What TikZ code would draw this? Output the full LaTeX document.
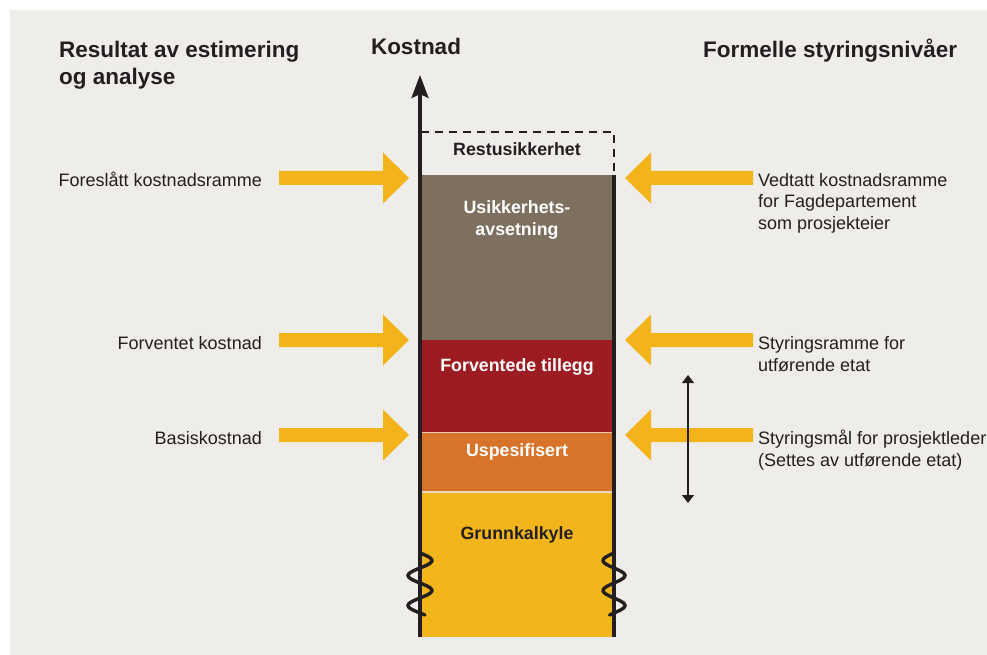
\documentclass[tikz,border=0pt]{standalone}
\usepackage{fontspec}
\setmainfont{Liberation Sans}
\usepackage{xcolor}
\usepackage{tikz}
\usetikzlibrary{arrows.meta}

\definecolor{bggrey}{HTML}{EEEDE9}
\definecolor{brownblk}{HTML}{7E705F}
\definecolor{redblk}{HTML}{9D1C21}
\definecolor{orangeblk}{HTML}{D8742A}
\definecolor{yellowblk}{HTML}{F2B51C}
\definecolor{arrowyellow}{HTML}{F3B31B}
\definecolor{inkdark}{HTML}{231F20}

\begin{document}
\begin{tikzpicture}[x=1pt, y=-1pt,
  every node/.style = {inner sep=0pt, text=inkdark},
  title/.style = {font=\fontsize{22.5}{27}\selectfont\bfseries, align=left},
  leftlbl/.style = {font=\fontsize{18}{21}\selectfont, anchor=base east},
  rightlbl/.style = {font=\fontsize{18}{21.5}\selectfont, align=left, anchor=base west},
  blocktxt/.style = {font=\fontsize{17.8}{22}\selectfont\bfseries, text=white, align=center, anchor=base},
  fatarrow/.style = {fill=arrowyellow},
  column/.style = {line width=3.5pt, draw=inkdark}]
  \useasboundingbox (0,0) rectangle (987,655);
  \fill[bggrey] (10,10) rectangle (987,655);

  % titles (base = last line)
  \node[title, anchor=base west] (restitle) at (59,85) {Resultat av estimering\\og analyse};
  \node[title, anchor=base] (kostnad) at (416,55) {Kostnad};
  \node[title, anchor=base west] (formtitle) at (703,58) {Formelle styringsniv\r{a}er};

  % cost column
  \fill[brownblk]  (420,175) rectangle (614,340);
  \fill[redblk]    (420,340) rectangle (614,432);
  \fill[orangeblk] (420,432) rectangle (614,492);
  \fill[yellowblk] (420,492) rectangle (614,637);
  \draw[white!60!orangeblk, line width=1pt] (420,432.5) -- (614,432.5);
  \draw[white!70!orangeblk, line width=1.8pt] (420,492) -- (614,492);

  \node[blocktxt, text=inkdark] (rest) at (517,156) {Restusikkerhet};
  \node[blocktxt] (usik) at (517,235) {Usikkerhets-\\avsetning};
  \node[blocktxt] (tillegg) at (517,371) {Forventede tillegg};
  \node[blocktxt] (uspes) at (517,456) {Uspesifisert};
  \node[blocktxt, text=inkdark] (grunn) at (517,539) {Grunnkalkyle};

  \coordinate (axisbot) at (420,637);
  \coordinate (axistop) at (420,75);
  \coordinate (rightbot) at (614,637);
  \coordinate (righttop) at (614,175);
  \draw[column, -{Stealth[length=23pt, width=17pt, inset=4pt]}] (axisbot) -- (axistop);
  \draw[column] (rightbot) -- (righttop);
  \draw[inkdark, line width=2pt, dash pattern=on 8pt off 6pt] (421,132) -- (614,132) -- (614,175);

  % break marks
  \draw[inkdark, line width=3.4pt, line cap=round, smooth, samples=40, domain=553:615]
    plot ({420+12*sin((\x-553)*12)}, \x);
  \draw[inkdark, line width=3.4pt, line cap=round, smooth, samples=40, domain=553:615]
    plot ({614-11*sin((\x-553)*12)}, \x);

  % yellow arrows
  \foreach \y in {178,340,435} {
    \fill[fatarrow] (279,\y-7) -- (383,\y-7) -- (383,\y-25.5) -- (409,\y)
      -- (383,\y+25.5) -- (383,\y+7) -- (279,\y+7) -- cycle;
    \fill[fatarrow] (753,\y-7) -- (651,\y-7) -- (651,\y-25.5) -- (625,\y)
      -- (651,\y+25.5) -- (651,\y+7) -- (753,\y+7) -- cycle;
  }

  % labels left
  \node[leftlbl] (foreslatt) at (262,186) {Foresl\r{a}tt kostnadsramme};
  \node[leftlbl] (forventet) at (262,349) {Forventet kostnad};
  \node[leftlbl] (basis) at (262,444) {Basiskostnad};

  % labels right (base = last line)
  \node[rightlbl] (vedtatt) at (758,229) {Vedtatt kostnadsramme\\for Fagdepartement\\som prosjekteier};
  \node[rightlbl] (styrramme) at (758,371) {Styringsramme for\\utf\o{}rende etat};
  \node[rightlbl] (styrmal) at (758,466) {Styringsm\r{a}l for prosjektleder\\(Settes av utf\o{}rende etat)};

  % range
  \coordinate (rangetop) at (688,375);
  \coordinate (rangebot) at (688,503);
  \draw[inkdark, line width=1.2pt, {Triangle[length=8pt, width=12pt]}-{Triangle[length=8pt, width=12pt]}] (rangetop) -- (rangebot);
\end{tikzpicture}
\end{document}
